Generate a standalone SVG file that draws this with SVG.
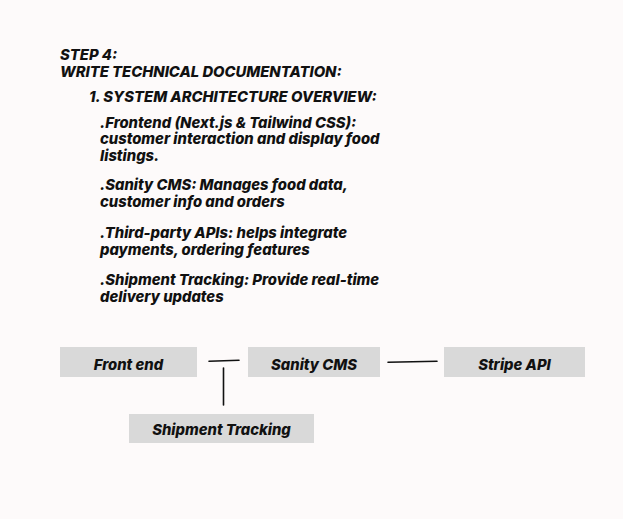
<svg xmlns="http://www.w3.org/2000/svg" width="623" height="519" viewBox="0 0 623 519">
<style>
.t{font-family:Inter,"Liberation Sans",Arial,sans-serif;font-weight:800;font-style:italic;font-size:14.8px;fill:#111}
.lbl{font-family:Inter,"Liberation Sans",Arial,sans-serif;font-weight:800;font-style:italic;font-size:14.8px;fill:#111;text-anchor:middle}
.box{fill:#d9d9d9}
.conn{stroke:#111;stroke-width:1.6;fill:none;stroke-linecap:round}
</style>
<rect width="623" height="519" fill="#fdfafa"/>
<g id="doc-text">
<text class="t" x="60" y="60">STEP 4:</text>
<text class="t" x="60" y="77">WRITE TECHNICAL DOCUMENTATION:</text>
<text class="t" x="89" y="102">1.  SYSTEM ARCHITECTURE OVERVIEW:</text>
<text class="t" x="100" y="127.5">.Frontend (Next.js &amp; Tailwind CSS):</text>
<text class="t" x="100" y="144">customer interaction and display food</text>
<text class="t" x="100" y="161">listings.</text>
<text class="t" x="100" y="190">.Sanity CMS: Manages food data,</text>
<text class="t" x="100" y="207">customer info and orders</text>
<text class="t" x="100" y="238">.Third-party APIs: helps integrate</text>
<text class="t" x="100" y="255">payments, ordering features</text>
<text class="t" x="100" y="285">.Shipment Tracking: Provide real-time</text>
<text class="t" x="100" y="302">delivery updates</text>
</g>
<g id="connectors">
<path class="conn" d="M209 361.3 L239 360.3"/>
<path class="conn" d="M223.5 368 L223.5 405"/>
<path class="conn" d="M388 362.2 L437 361.2"/>
</g>
<g id="node-frontend">
<rect class="box" x="60" y="347" width="137" height="30"/>
<text class="lbl" x="128.5" y="369.5">Front end</text>
</g>
<g id="node-sanity">
<rect class="box" x="248" y="347" width="132" height="30"/>
<text class="lbl" x="314" y="369.5">Sanity CMS</text>
</g>
<g id="node-stripe">
<rect class="box" x="444" y="347" width="141" height="30"/>
<text class="lbl" x="514.5" y="369.5">Stripe API</text>
</g>
<g id="node-shipment">
<rect class="box" x="129" y="414" width="185" height="29"/>
<text class="lbl" x="221.5" y="434.5">Shipment Tracking</text>
</g>
</svg>
